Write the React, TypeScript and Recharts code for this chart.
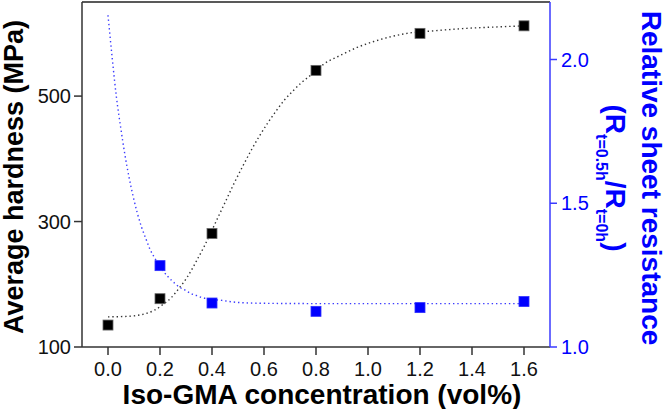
import {
  ComposedChart,
  Line,
  Scatter,
  XAxis,
  YAxis,
  ReferenceLine,
} from "recharts";

// measured points
const concX = [0.0, 0.2, 0.4, 0.8, 1.2, 1.6];
const hardness = [135, 177, 281, 541, 600, 612];

const resX = [0.2, 0.4, 0.8, 1.2, 1.6];
const resistance = [1.283, 1.153, 1.124, 1.137, 1.158];

// dotted fit curves
const hardFitX = [
  0.0, 0.08, 0.114, 0.147, 0.178, 0.212, 0.243, 0.275, 0.308, 0.34, 0.372,
  0.42, 0.452, 0.485, 0.518, 0.55, 0.582, 0.615, 0.647, 0.679, 0.712, 0.743,
  0.777, 0.83, 0.894, 0.958, 1.022, 1.086, 1.15, 1.252, 1.38, 1.51, 1.6,
];
const hardFitY = [
  148, 149, 150.5, 153.5, 158.5, 168, 178.5, 194.5, 213.5, 237, 262, 304, 332,
  361, 388, 413, 436, 457.5, 476.5, 494, 508.5, 521, 532.5, 551, 565, 577.5,
  587, 594.5, 600, 604, 608, 610.5, 612,
];

const resFitX = [
  0.0, 0.0165, 0.032, 0.049, 0.065, 0.081, 0.097, 0.113, 0.129, 0.146, 0.161,
  0.178, 0.227, 0.243, 0.26, 0.275, 0.292, 0.309, 0.324, 0.341, 0.358, 0.438,
  0.5, 0.6, 0.8, 1.2, 1.6,
];
const resFitY = [
  2.154, 2.002, 1.872, 1.762, 1.669, 1.59, 1.523, 1.465, 1.417, 1.376, 1.341,
  1.312, 1.248, 1.233, 1.219, 1.208, 1.2, 1.191, 1.184, 1.179, 1.173, 1.162,
  1.155, 1.152, 1.151, 1.151, 1.151,
];

const xTicks = [0, 0.2, 0.4, 0.6, 0.8, 1.0, 1.2, 1.4, 1.6];
const leftTicks = [100, 300, 500];
const rightTicks = [1.0, 1.5, 2.0];

const zip = (xs: number[], ys: number[]) => xs.map((x, i) => ({ x, y: ys[i] }));

const hardData = zip(concX, hardness);
const resData = zip(resX, resistance);
const hardFit = zip(hardFitX, hardFitY);
const resFit = zip(resFitX, resFitY);

const FONT = "'Liberation Sans', Arial, sans-serif";
const BLUE = "#0000ff";

const BlackSquare = (p: any) => (
  <rect x={p.cx - 5} y={p.cy - 5} width={10} height={10} fill="#000" stroke="#666" strokeWidth={0.8} />
);
const BlueSquare = (p: any) => (
  <rect x={p.cx - 5} y={p.cy - 5} width={10} height={10} fill={BLUE} stroke="#3030ff" strokeWidth={0.8} />
);

const LeftLabel = () => (
  <text
    x={23}
    y={177}
    transform="rotate(-90, 23, 177)"
    textAnchor="middle"
    fontFamily={FONT}
    fontWeight="bold"
    fontSize={27}
    fill="#000"
  >
    Average hardness (MPa)
  </text>
);

const RightLabel = () => (
  <g fontFamily={FONT} fontWeight="bold" fill={BLUE}>
    <text x={642} y={178} transform="rotate(90, 642, 178)" textAnchor="middle" fontSize={28}>
      Relative sheet resistance
    </text>
    <text x={606} y={178} transform="rotate(90, 606, 178)" textAnchor="middle" fontSize={28}>
      <tspan>(R</tspan>
      <tspan fontSize={16} dy={10}>t=0.5h</tspan>
      <tspan dy={-10}>/R</tspan>
      <tspan fontSize={16} dy={10}>t=0h</tspan>
      <tspan dy={-10}>)</tspan>
    </text>
  </g>
);

const BottomLabel = () => (
  <text x={322} y={404} textAnchor="middle" fontFamily={FONT} fontWeight="bold" fontSize={28} fill="#000">
    Iso-GMA concentration (vol%)
  </text>
);

export default function App() {
  return (
    <div style={{ position: "absolute", left: 0, top: 0, background: "#fff" }}>
      <ComposedChart width={666} height={409} margin={{ top: 2, right: 0, bottom: 0, left: 0 }}>
        <XAxis
          dataKey="x"
          type="number"
          domain={[-0.1, 1.7]}
          ticks={xTicks}
          tickFormatter={(v: number) => v.toFixed(1)}
          height={62}
          tickSize={8}
          tickMargin={7}
          stroke="#333"
          strokeWidth={1.5}
          tick={{ fill: "#111", fontSize: 20, fontFamily: FONT }}
          label={<BottomLabel />}
          allowDataOverflow
        />
        <YAxis
          yAxisId="left"
          dataKey="y"
          type="number"
          domain={[100, 650]}
          ticks={leftTicks}
          width={82}
          tickSize={8}
          tickMargin={3}
          stroke="#333"
          strokeWidth={1.5}
          tick={{ fill: "#111", fontSize: 20, fontFamily: FONT }}
          label={<LeftLabel />}
          allowDataOverflow
        />
        <YAxis
          yAxisId="right"
          orientation="right"
          dataKey="y"
          type="number"
          domain={[1.0, 2.2]}
          ticks={rightTicks}
          tickFormatter={(v: number) => v.toFixed(1)}
          width={116}
          tickSize={7}
          tickMargin={4}
          stroke="#3a3aff"
          strokeWidth={1.5}
          tick={{ fill: BLUE, fontSize: 20, fontFamily: FONT }}
          label={<RightLabel />}
          allowDataOverflow
        />
        <ReferenceLine yAxisId="left" y={650} stroke="#222" strokeWidth={1.5} />
        <Line
          yAxisId="left"
          data={hardFit}
          dataKey="y"
          type="monotone"
          stroke="#333"
          strokeWidth={1.4}
          strokeDasharray="1.4 2.9"
          dot={false}
          activeDot={false}
          isAnimationActive={false}
        />
        <Line
          yAxisId="right"
          data={resFit}
          dataKey="y"
          type="monotone"
          stroke="#3a3aff"
          strokeWidth={1.4}
          strokeDasharray="1.4 2.9"
          dot={false}
          activeDot={false}
          isAnimationActive={false}
        />
        <Scatter yAxisId="left" data={hardData} dataKey="y" shape={BlackSquare} isAnimationActive={false} />
        <Scatter yAxisId="right" data={resData} dataKey="y" shape={BlueSquare} isAnimationActive={false} />
      </ComposedChart>
    </div>
  );
}
